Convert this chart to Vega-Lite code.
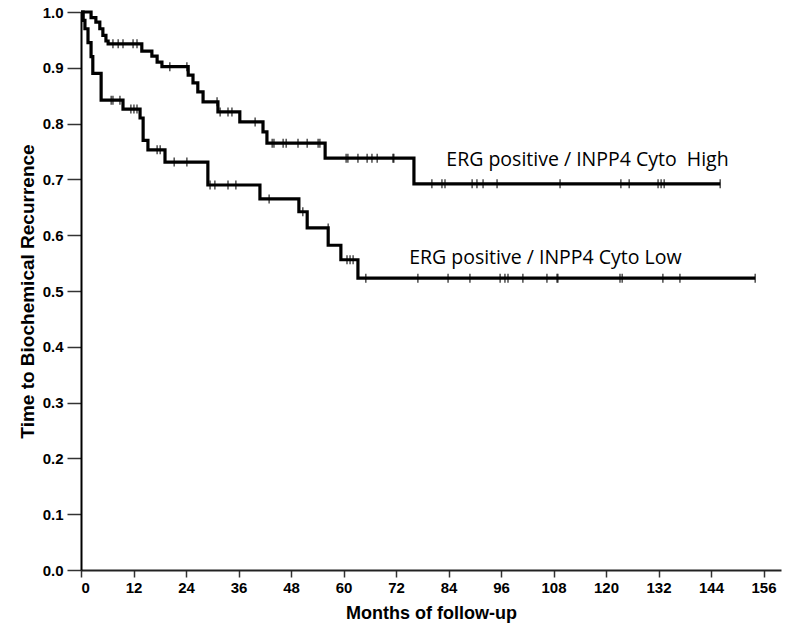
{
  "$schema": "https://vega.github.io/schema/vega-lite/v6.json",
  "width": 700,
  "height": 558,
  "autosize": {"type": "none"},
  "padding": {"left": 81, "top": 12, "right": 19, "bottom": 71},
  "background": "white",
  "config": {
    "view": {"stroke": null},
    "axis": {
      "grid": false,
      "labelFont": "Liberation Sans",
      "labelFontWeight": "bold",
      "labelFontSize": 15,
      "labelColor": "black",
      "titleFont": "Liberation Sans",
      "titleFontWeight": "bold",
      "titleFontSize": 18,
      "titleColor": "black",
      "domainColor": "black",
      "domainWidth": 2,
      "tickColor": "#333",
      "tickWidth": 1.5
    }
  },
  "datasets": {
    "curves": [
      {"series": "High", "month": 0, "surv": 1.0},
      {"series": "High", "month": 2.3, "surv": 0.99},
      {"series": "High", "month": 3.4, "surv": 0.982},
      {"series": "High", "month": 4.3, "surv": 0.97},
      {"series": "High", "month": 5.0, "surv": 0.958},
      {"series": "High", "month": 5.7, "surv": 0.948},
      {"series": "High", "month": 6.2, "surv": 0.943},
      {"series": "High", "month": 13.9, "surv": 0.93},
      {"series": "High", "month": 16.2, "surv": 0.921},
      {"series": "High", "month": 17.4, "surv": 0.91},
      {"series": "High", "month": 18.5, "surv": 0.902},
      {"series": "High", "month": 24.5, "surv": 0.887},
      {"series": "High", "month": 25.6, "surv": 0.873},
      {"series": "High", "month": 26.7, "surv": 0.857},
      {"series": "High", "month": 27.9, "surv": 0.839},
      {"series": "High", "month": 31.3, "surv": 0.821},
      {"series": "High", "month": 36.3, "surv": 0.803},
      {"series": "High", "month": 41.6, "surv": 0.785},
      {"series": "High", "month": 42.5, "surv": 0.765},
      {"series": "High", "month": 55.8, "surv": 0.738},
      {"series": "High", "month": 76.1, "surv": 0.692},
      {"series": "High", "month": 146.1, "surv": 0.692},
      {"series": "Low", "month": 0, "surv": 1.0},
      {"series": "Low", "month": 0.5, "surv": 0.985},
      {"series": "Low", "month": 0.9, "surv": 0.97},
      {"series": "Low", "month": 1.6, "surv": 0.945},
      {"series": "Low", "month": 2.3, "surv": 0.92},
      {"series": "Low", "month": 2.7, "surv": 0.89},
      {"series": "Low", "month": 4.6, "surv": 0.842},
      {"series": "Low", "month": 9.6, "surv": 0.826},
      {"series": "Low", "month": 13.5, "surv": 0.81},
      {"series": "Low", "month": 14.2, "surv": 0.77},
      {"series": "Low", "month": 15.3, "surv": 0.753},
      {"series": "Low", "month": 19.2, "surv": 0.731},
      {"series": "Low", "month": 29.0, "surv": 0.69},
      {"series": "Low", "month": 40.9, "surv": 0.665},
      {"series": "Low", "month": 49.8, "surv": 0.642},
      {"series": "Low", "month": 51.7, "surv": 0.613},
      {"series": "Low", "month": 56.5, "surv": 0.582},
      {"series": "Low", "month": 59.4, "surv": 0.556},
      {"series": "Low", "month": 63.3, "surv": 0.523},
      {"series": "Low", "month": 154.1, "surv": 0.523}
    ],
    "censors": [
      {"series": "High", "month": 7.3, "surv": 0.943},
      {"series": "High", "month": 8.5, "surv": 0.943},
      {"series": "High", "month": 9.6, "surv": 0.943},
      {"series": "High", "month": 11.9, "surv": 0.943},
      {"series": "High", "month": 12.8, "surv": 0.943},
      {"series": "High", "month": 20.3, "surv": 0.902},
      {"series": "High", "month": 24.2, "surv": 0.902},
      {"series": "High", "month": 31.1, "surv": 0.839},
      {"series": "High", "month": 31.8, "surv": 0.821},
      {"series": "High", "month": 33.6, "surv": 0.821},
      {"series": "High", "month": 34.5, "surv": 0.821},
      {"series": "High", "month": 39.8, "surv": 0.803},
      {"series": "High", "month": 43.7, "surv": 0.765},
      {"series": "High", "month": 44.1, "surv": 0.765},
      {"series": "High", "month": 46.2, "surv": 0.765},
      {"series": "High", "month": 46.9, "surv": 0.765},
      {"series": "High", "month": 49.6, "surv": 0.765},
      {"series": "High", "month": 51.7, "surv": 0.765},
      {"series": "High", "month": 54.2, "surv": 0.765},
      {"series": "High", "month": 54.6, "surv": 0.765},
      {"series": "High", "month": 60.6, "surv": 0.738},
      {"series": "High", "month": 61.0, "surv": 0.738},
      {"series": "High", "month": 63.3, "surv": 0.738},
      {"series": "High", "month": 65.4, "surv": 0.738},
      {"series": "High", "month": 66.5, "surv": 0.738},
      {"series": "High", "month": 67.7, "surv": 0.738},
      {"series": "High", "month": 71.3, "surv": 0.738},
      {"series": "High", "month": 71.5, "surv": 0.738},
      {"series": "High", "month": 80.2, "surv": 0.692},
      {"series": "High", "month": 82.5, "surv": 0.692},
      {"series": "High", "month": 83.2, "surv": 0.692},
      {"series": "High", "month": 89.4, "surv": 0.692},
      {"series": "High", "month": 90.5, "surv": 0.692},
      {"series": "High", "month": 91.9, "surv": 0.692},
      {"series": "High", "month": 95.1, "surv": 0.692},
      {"series": "High", "month": 109.5, "surv": 0.692},
      {"series": "High", "month": 123.4, "surv": 0.692},
      {"series": "High", "month": 125.3, "surv": 0.692},
      {"series": "High", "month": 131.9, "surv": 0.692},
      {"series": "High", "month": 132.6, "surv": 0.692},
      {"series": "High", "month": 133.3, "surv": 0.692},
      {"series": "High", "month": 146.1, "surv": 0.692},
      {"series": "Low", "month": 6.9, "surv": 0.842},
      {"series": "Low", "month": 7.3, "surv": 0.842},
      {"series": "Low", "month": 8.9, "surv": 0.842},
      {"series": "Low", "month": 11.4, "surv": 0.826},
      {"series": "Low", "month": 12.1, "surv": 0.826},
      {"series": "Low", "month": 12.8, "surv": 0.826},
      {"series": "Low", "month": 17.4, "surv": 0.753},
      {"series": "Low", "month": 18.1, "surv": 0.753},
      {"series": "Low", "month": 21.3, "surv": 0.731},
      {"series": "Low", "month": 24.2, "surv": 0.731},
      {"series": "Low", "month": 29.5, "surv": 0.69},
      {"series": "Low", "month": 30.6, "surv": 0.69},
      {"series": "Low", "month": 33.6, "surv": 0.69},
      {"series": "Low", "month": 35.4, "surv": 0.69},
      {"series": "Low", "month": 43.0, "surv": 0.665},
      {"series": "Low", "month": 50.7, "surv": 0.642},
      {"series": "Low", "month": 56.5, "surv": 0.613},
      {"series": "Low", "month": 60.8, "surv": 0.556},
      {"series": "Low", "month": 61.5, "surv": 0.556},
      {"series": "Low", "month": 62.2, "surv": 0.556},
      {"series": "Low", "month": 65.1, "surv": 0.523},
      {"series": "Low", "month": 77.0, "surv": 0.523},
      {"series": "Low", "month": 83.9, "surv": 0.523},
      {"series": "Low", "month": 88.9, "surv": 0.523},
      {"series": "Low", "month": 95.8, "surv": 0.523},
      {"series": "Low", "month": 96.9, "surv": 0.523},
      {"series": "Low", "month": 97.6, "surv": 0.523},
      {"series": "Low", "month": 101.0, "surv": 0.523},
      {"series": "Low", "month": 106.5, "surv": 0.523},
      {"series": "Low", "month": 108.8, "surv": 0.523},
      {"series": "Low", "month": 109.0, "surv": 0.523},
      {"series": "Low", "month": 123.2, "surv": 0.523},
      {"series": "Low", "month": 123.7, "surv": 0.523},
      {"series": "Low", "month": 133.0, "surv": 0.523},
      {"series": "Low", "month": 136.9, "surv": 0.523},
      {"series": "Low", "month": 154.1, "surv": 0.523}
    ],
    "labels": [
      {"label": "ERG positive / INPP4 Cyto\u00a0 High", "month": 83.5, "surv": 0.735},
      {"label": "ERG positive / INPP4 Cyto Low", "month": 75.0, "surv": 0.559}
    ]
  },
  "layer": [
    {
      "data": {"name": "curves"},
      "mark": {"type": "line", "interpolate": "step-after", "color": "black", "strokeWidth": 3.2},
      "encoding": {
        "x": {
          "field": "month", "type": "quantitative",
          "scale": {"domain": [0, 160], "nice": false},
          "axis": {"values": [0, 12, 24, 36, 48, 60, 72, 84, 96, 108, 120, 132, 144, 156], "title": "Months of follow-up", "tickSize": 7, "labelPadding": 3, "titlePadding": 9, "domainColor": "#222"}
        },
        "y": {
          "field": "surv", "type": "quantitative",
          "scale": {"domain": [0, 1], "nice": false, "zero": true},
          "axis": {"values": [0, 0.1, 0.2, 0.3, 0.4, 0.5, 0.6, 0.7, 0.8, 0.9, 1.0], "format": ".1f", "title": "Time to Biochemical Recurrence", "titleFontSize": 19, "tickSize": 14, "labelPadding": 4, "titlePadding": 5}
        },
        "detail": {"field": "series"}
      }
    },
    {
      "data": {"name": "censors"},
      "mark": {"type": "tick", "orient": "vertical", "color": "black", "size": 9, "thickness": 1.5},
      "encoding": {
        "x": {"field": "month", "type": "quantitative"},
        "y": {"field": "surv", "type": "quantitative"}
      }
    },
    {
      "data": {"name": "labels"},
      "mark": {"type": "text", "align": "left", "baseline": "middle", "font": "Open Sans", "fontSize": 19.5, "color": "black"},
      "encoding": {
        "x": {"field": "month", "type": "quantitative"},
        "y": {"field": "surv", "type": "quantitative"},
        "text": {"field": "label"}
      }
    }
  ]
}
